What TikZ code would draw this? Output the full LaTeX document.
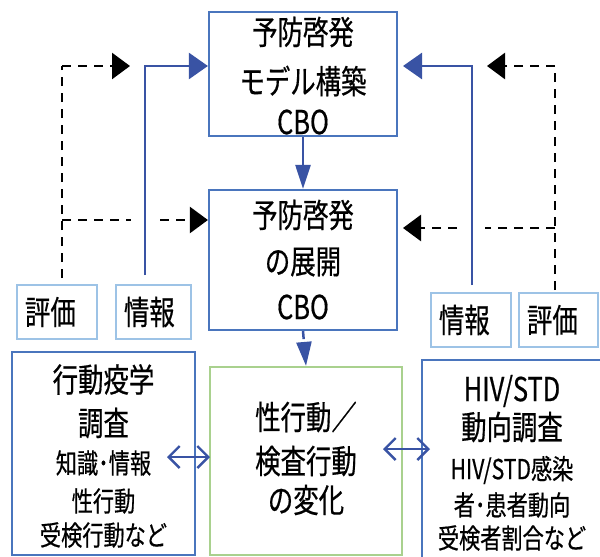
\documentclass[tikz,border=0pt]{standalone}
\usepackage{fontspec}
\newfontfamily\jp[FakeStretch=0.77,FakeBold=0.5]{Noto Sans CJK JP}
\usetikzlibrary{arrows.meta}
\definecolor{boxblue}{HTML}{4A75BD}
\definecolor{arrblue}{HTML}{3953A4}
\definecolor{lblue}{HTML}{9DC3E6}
\definecolor{lgreen}{HTML}{A9D18E}
\tikzset{
  mainbox/.style={draw=boxblue, line width=2.2pt, inner sep=0pt},
  greenbox/.style={draw=lgreen, line width=2.2pt, inner sep=0pt},
  tagbox/.style={draw=lblue, line width=2.5pt, inner xsep=8pt, inner ysep=0pt, minimum height=54pt, align=left, font=\jp\fontsize{33}{33}\selectfont},
  bigtxt/.style={font=\jp\fontsize{33}{33}\selectfont, inner sep=0pt},
  smalltxt/.style={font=\jp\fontsize{27.5}{27.5}\selectfont, inner sep=0pt},
  bluearrow/.style={draw=arrblue, line width=2.5pt, -{Triangle[length=19pt,width=26pt]}},
  bluevarrow/.style={draw=arrblue, line width=2.5pt, -{Triangle[length=24pt,width=15pt]}},
  blackdash/.style={draw=black, line width=2.5pt, dash pattern=on 9pt off 7pt},
  blackarrow/.style={blackdash, -{Triangle[length=18pt,width=26pt]}},
  twoway/.style={draw=arrblue, line width=2.4pt, {Straight Barb[length=11pt,width=22pt]}-{Straight Barb[length=11pt,width=22pt]}}
}
\begin{document}
\begin{tikzpicture}[x=1pt,y=-1pt]
\useasboundingbox (0,0) rectangle (600,557);
\fill[white] (0,0) rectangle (600,557);
% boxes
\node[mainbox, minimum width=188pt, minimum height=124pt] (top) at (303,74) {};
\node[mainbox, minimum width=188pt, minimum height=140pt] (mid) at (303,260) {};
\node[greenbox, minimum width=192pt, minimum height=188pt] (chg) at (306,461) {};
\node[mainbox, minimum width=183pt, minimum height=203pt] (kodo) at (103.5,453.5) {};
\node[mainbox, minimum width=181pt, minimum height=200pt] (hiv) at (512.5,460) {};
% tag boxes
\node[tagbox, text width=64pt] (lhyoka) at (57,312) {評価};
\node[tagbox, text width=59pt] (ljoho) at (153.5,312) {情報};
\node[tagbox, text width=64pt] (rjoho) at (471,320) {情報};
\node[tagbox, text width=63pt] (rhyoka) at (558.5,320) {評価};
% texts
\node[bigtxt] (t1a) at (303,32) {予防啓発};
\node[bigtxt] (t1b) at (303,81) {モデル構築};
\node[bigtxt] (t1c) at (303,122) {CBO};
\node[bigtxt] (t2a) at (303,215) {予防啓発};
\node[bigtxt] (t2b) at (303,262) {の展開};
\node[bigtxt] (t2c) at (303,307) {CBO};
\node[bigtxt] (t3a) at (306,417) {性行動／};
\node[bigtxt] (t3b) at (306,461) {検査行動};
\node[bigtxt] (t3c) at (306,500) {の変化};
\node[bigtxt] (t4a) at (103.5,379.5) {行動疫学};
\node[bigtxt] (t4b) at (103.5,423) {調査};
\node[smalltxt] (t4c) at (103.5,463) {知識･情報};
\node[smalltxt] (t4d) at (103.5,501) {性行動};
\node[smalltxt] (t4e) at (103.5,535) {受検行動など};
\node[bigtxt] (t5a) at (512,391) {HIV/STD};
\node[bigtxt] (t5b) at (512,427) {動向調査};
\node[smalltxt] (t5c) at (512,470) {HIV/STD感染};
\node[smalltxt] (t5d) at (512,505) {者･患者動向};
\node[smalltxt] (t5e) at (512,538) {受検者割合など};
% coordinates
\coordinate (lb0) at (145,275);
\coordinate (lb1) at (145,66);
\coordinate (ld0) at (62,278);
\coordinate (ld1) at (62,66);
\coordinate (ld2) at (130,66);
\coordinate (ld3) at (62,220);
\coordinate (ld4) at (131,220);
\coordinate (ld5) at (160,220);
\coordinate (rb0) at (472,285);
\coordinate (rb1) at (472,66);
\coordinate (rb2) at (403,66);
\coordinate (rd0) at (555,290);
\coordinate (rd1) at (555,66);
\coordinate (rd2) at (487,66);
\coordinate (rd3) at (555,228);
\coordinate (rd4) at (485,228);
\coordinate (rd5) at (457,228);
\coordinate (rd6) at (403,228);
\coordinate (la0) at (167,457);
\coordinate (la1) at (210,457);
\coordinate (ra0) at (383,449);
\coordinate (ra1) at (430,449);
% connectors
\draw[bluevarrow] (top.south) -- (mid.north);
\draw[bluevarrow, dash pattern=on 8pt off 6pt] (mid.south) -- (chg.north);
\draw[blackdash] (ld0) -- (ld1);
\draw[blackarrow] (ld1) -- (ld2);
\draw[blackdash] (ld3) -- (ld4);
\draw[blackarrow] (ld5) -- (ld5 -| mid.west);
\draw[bluearrow] (lb0) -- (lb1) -- (lb1 -| top.west);
\draw[blackdash] (rd0) -- (rd1);
\draw[blackarrow] (rd1) -- (rd2);
\draw[blackdash] (rd3) -- (rd4);
\draw[blackarrow] (rd5) -- (rd6);
\draw[bluearrow] (rb0) -- (rb1) -- (rb2);
\draw[twoway] (la0) -- (la1);
\draw[twoway] (ra0) -- (ra1);
\end{tikzpicture}
\end{document}
